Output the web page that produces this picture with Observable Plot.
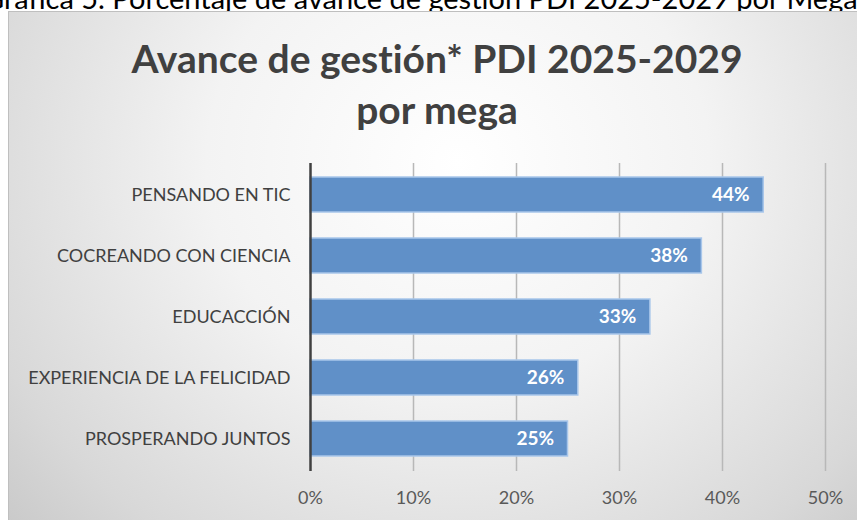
<!DOCTYPE html>
<html>
<head>
<meta charset="utf-8">
<script src="https://cdn.jsdelivr.net/npm/d3@7"></script>
<script src="https://cdn.jsdelivr.net/npm/@observablehq/plot@0.6"></script>
<style>
  html, body { margin: 0; padding: 0; background: #fff; }
  #page { position: relative; width: 857px; height: 520px; overflow: hidden; font-family: Lato, "Open Sans", sans-serif; font-variant-ligatures: none; }
  #caption { position: absolute; left: -17px; top: -17px; font-size: 29px; line-height: 29px; color: #000; white-space: nowrap; }
  #panel { position: absolute; left: 8px; top: 11px; width: 900px; height: 600px; border: 1px solid #bfbfbf; box-sizing: border-box;
    background: radial-gradient(ellipse 70% 95% at 50% 25%, #ffffff 0%, #f3f3f3 40%, #d8d8d8 80%, #c6c6c6 100%); }
  #title { position: absolute; left: 0; top: 33px; width: 874px; text-align: center; font-weight: 700; font-size: 39px; line-height: 51px; color: #404040; }
  #chart { position: absolute; left: 9px; top: 147px; }
  #chart text { font-variant-ligatures: none; }
</style>
</head>
<body>
<div id="page">
  <div id="caption">Gráfica 5. Porcentaje de avance de gestión PDI 2025-2029 por Mega</div>
  <div id="panel"></div>
  <div id="title">Avance de gestión* PDI 2025-2029<br>por mega</div>
  <div id="chart"></div>
</div>
<script>
const categories = ["PENSANDO EN TIC", "COCREANDO CON CIENCIA", "EDUCACCIÓN", "EXPERIENCIA DE LA FELICIDAD", "PROSPERANDO JUNTOS"];
const values = [0.44, 0.38, 0.33, 0.26, 0.25];
const tickValues = [0, 0.1, 0.2, 0.3, 0.4, 0.5];
const tickLabels = ["0%", "10%", "20%", "30%", "40%", "50%"];

const data = categories.map((c, i) => ({category: c, value: values[i]}));

const chart = Plot.plot({
  width: 848,
  height: 373,
  marginLeft: 301,
  marginRight: 32,
  marginTop: 16,
  marginBottom: 49,
  style: {background: "transparent", fontFamily: "Lato, 'Open Sans', sans-serif", overflow: "visible"},
  x: {domain: [0, 0.5]},
  y: {domain: categories, paddingInner: 0.42, paddingOuter: 0.21},
  marks: [
    Plot.ruleX(tickValues.slice(1), {stroke: "#b8b8b8", strokeWidth: 1.5}),
    Plot.barX(data, {y: "category", x: "value", fill: "#6090c8", stroke: "#a8c6ea", strokeWidth: 1.5}),
    Plot.ruleX([0], {stroke: "#404040", strokeWidth: 2.5}),
    Plot.text(data, {y: "category", x: "value", text: d => Math.round(d.value * 100) + "%", textAnchor: "end", dx: -14, fill: "#ffffff", fontWeight: "bold", fontSize: 19}),
    Plot.axisY({tickSize: 0, tickPadding: 20, fontSize: 18, color: "#404040", label: null}),
    Plot.axisX({ticks: tickValues, tickFormat: (d, i) => tickLabels[i], tickSize: 0, tickPadding: 20, fontSize: 18, color: "#595959", label: null})
  ]
});
document.getElementById("chart").appendChild(chart);
</script>
</body>
</html>
